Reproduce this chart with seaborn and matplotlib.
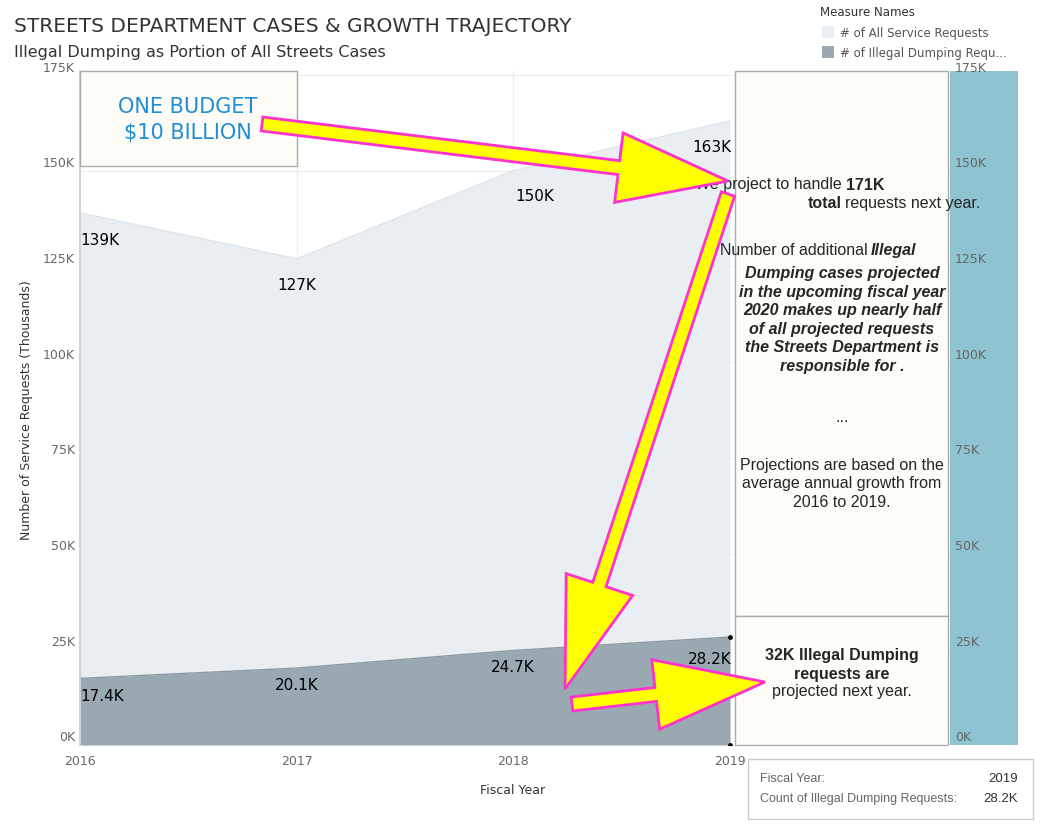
import matplotlib
matplotlib.use("Agg")
import matplotlib.pyplot as plt
import seaborn as sns
import pandas as pd
from matplotlib.patches import FancyArrow, Rectangle

years = [2016, 2017, 2018, 2019]
all_requests = [139000, 127000, 150000, 163000]
dumping_requests = [17400, 20100, 24700, 28200]
all_labels = ["139K", "127K", "150K", "163K"]
dump_labels = ["17.4K", "20.1K", "24.7K", "28.2K"]
y_ticks = [0, 25000, 50000, 75000, 100000, 125000, 150000, 175000]
y_tick_labels = ["0K", "25K", "50K", "75K", "100K", "125K", "150K", "175K"]

df = pd.DataFrame({"year": years, "all": all_requests, "dump": dumping_requests})

sns.set_theme(style="white")
plt.rcParams["font.family"] = ["DejaVu Sans"]

fig = plt.figure(figsize=(10.41, 8.28), dpi=100)
W, H = 1041, 828
ax = fig.add_axes([80 / W, 1 - 746 / H, 938 / W, 674 / H])

ax.fill_between(df["year"], df["all"], color="#e9eef2", lw=0)
ax.fill_between(df["year"], df["dump"], color="#9aa8b2", lw=0)
sns.lineplot(data=df, x="year", y="all", ax=ax, color="#dde4ea", lw=1)
sns.lineplot(data=df, x="year", y="dump", ax=ax, color="#8c9aa4", lw=1)
ax.scatter([2019, 2019], [0, 28200], color="black", s=6, zorder=5)
ax.set_xlabel("")
ax.set_ylabel("")

x_right = 2016 + 3 * 938 / 650
ax.set_xlim(2016, x_right)
ax.set_ylim(0, 175000 * 674 / 670)
ax.axvspan(2016 + 3 * 870 / 650, x_right, color="#8ec3d1", lw=0)
for x in [2017, 2018]:
    ax.axvline(x, color="#eeeeee", lw=1, zorder=0)
for t in y_ticks:
    ax.axhline(t, color="#eeeeee", lw=0.8, zorder=0)
ax.set_yticks(y_ticks)
ax.set_yticklabels([])
ax.set_xticks([])
for sp in ax.spines.values():
    sp.set_visible(False)
ax.spines["left"].set_visible(True)
ax.spines["left"].set_color("#cccccc")

# overlay in pixel coords for texts, boxes and arrows
ov = fig.add_axes([0, 0, 1, 1])
ov.set_xlim(0, W)
ov.set_ylim(H, 0)
ov.axis("off")
ov.patch.set_alpha(0)

for t, lab in zip(y_ticks, y_tick_labels):
    py = 746 - t / 175000 * 670 - 8
    ov.text(75, py, lab, ha="right", va="center", fontsize=9, color="#666666")
    ov.text(955, py, lab, ha="left", va="center", fontsize=9, color="#666666")
for x, yr in zip([80, 297, 513, 730], years):
    ov.text(x, 762, str(yr), ha="center", va="center", fontsize=9, color="#666666")
ov.text(513, 791, "Fiscal Year", ha="center", va="center", fontsize=9, color="#333333")
ov.text(27, 410, "Number of Service Requests (Thousands)", rotation=90,
        ha="center", va="center", fontsize=9, color="#333333")

for (x, y, ha), lab in zip([(80, 241, "left"), (297, 286, "center"),
                            (535, 197, "center"), (712, 147, "center")], all_labels):
    ov.text(x, y, lab, ha=ha, va="center", fontsize=11, color="black")
for (x, y, ha), lab in zip([(80, 697, "left"), (297, 686, "center"),
                            (513, 668, "center"), (710, 660, "center")], dump_labels):
    ov.text(x, y, lab, ha=ha, va="center", fontsize=11, color="black")

ov.text(14, 27, "STREETS DEPARTMENT CASES & GROWTH TRAJECTORY", fontsize=14.5,
        color="#333333", va="center")
ov.text(14, 52, "Illegal Dumping as Portion of All Streets Cases", fontsize=11.5,
        color="#333333", va="center")

# legend
ov.text(820, 12, "Measure Names", fontsize=8.5, color="#333333", va="center")
ov.add_patch(Rectangle((822, 27), 12, 12, facecolor="#e9eef2", edgecolor="none"))
ov.text(840, 33, "# of All Service Requests", fontsize=8.5, color="#555555", va="center")
ov.add_patch(Rectangle((822, 47), 12, 12, facecolor="#9aa8b2", edgecolor="none"))
ov.text(840, 53, "# of Illegal Dumping Requ...", fontsize=8.5, color="#555555", va="center")

box_kw = dict(facecolor="#fdfcf7", edgecolor="#aaaaaa", lw=1)
ov.add_patch(Rectangle((80, 72), 217, 95, **box_kw))
ov.text(188, 120, "ONE BUDGET\n$10 BILLION", ha="center", va="center",
        fontsize=15, color="#1f8dd6", linespacing=1.4)
ov.add_patch(Rectangle((735, 72), 213, 545, **box_kw))
ov.add_patch(Rectangle((735, 617), 213, 129, **box_kw))

cx = 842
bf = "Liberation Sans"
ov.text(cx, 185, "We project to handle", ha="right", va="center", fontsize=11.5, family=bf)
ov.text(cx + 4, 185, "171K", ha="left", va="center", fontsize=11.5, family=bf, weight="bold")
ov.text(cx, 204, "total", ha="right", va="center", fontsize=11.5, family=bf, weight="bold")
ov.text(cx + 3, 204, "requests next year.", ha="left", va="center", fontsize=11.5, family=bf)
ov.text(868, 251, "Number of additional", ha="right", va="center", fontsize=11.5, family=bf)
ov.text(871, 251, "Illegal", ha="left", va="center", fontsize=11.5, family=bf,
        weight="bold", style="italic")
ov.text(cx, 320, "Dumping cases projected\nin the upcoming fiscal year\n"
        "2020 makes up nearly half\nof all projected requests\n"
        "the Streets Department is\nresponsible for .",
        ha="center", va="center", fontsize=11.5, family=bf, weight="bold",
        style="italic", linespacing=1.3)
ov.text(cx, 418, "...", ha="center", va="center", fontsize=11.5, family=bf)
ov.text(cx, 484, "Projections are based on the\naverage annual growth from\n2016 to 2019.",
        ha="center", va="center", fontsize=11.5, family=bf, linespacing=1.3)
ov.text(cx, 682, "32K Illegal Dumping\nrequests are", ha="center", va="bottom",
        fontsize=11.5, family=bf, weight="bold", linespacing=1.3)
ov.text(cx, 692, "projected next year.", ha="center", va="center", fontsize=11.5, family=bf)

# tooltip
ov.add_patch(Rectangle((748, 760), 285, 60, facecolor="white", edgecolor="#cccccc", lw=1))
ov.text(760, 779, "Fiscal Year:", fontsize=9, color="#666666", va="center", family=bf)
ov.text(1018, 779, "2019", fontsize=9.5, color="#333333", va="center", ha="right", family=bf)
ov.text(760, 799, "Count of Illegal Dumping Requests:", fontsize=9, color="#666666",
        va="center", family=bf)
ov.text(1018, 799, "28.2K", fontsize=9.5, color="#333333", va="center", ha="right", family=bf)

arrow_kw = dict(width=14, head_width=70, head_length=110, length_includes_head=True,
                facecolor="#ffff00", edgecolor="#ff33cc", lw=2, zorder=10)
ov.add_patch(FancyArrow(262, 125, 728 - 262, 182 - 125, **arrow_kw))
ov.add_patch(FancyArrow(728, 195, 565 - 728, 690 - 195, **arrow_kw))
ov.add_patch(FancyArrow(572, 705, 765 - 572, 683 - 705, **arrow_kw))

fig.savefig("out.png", dpi=100)
